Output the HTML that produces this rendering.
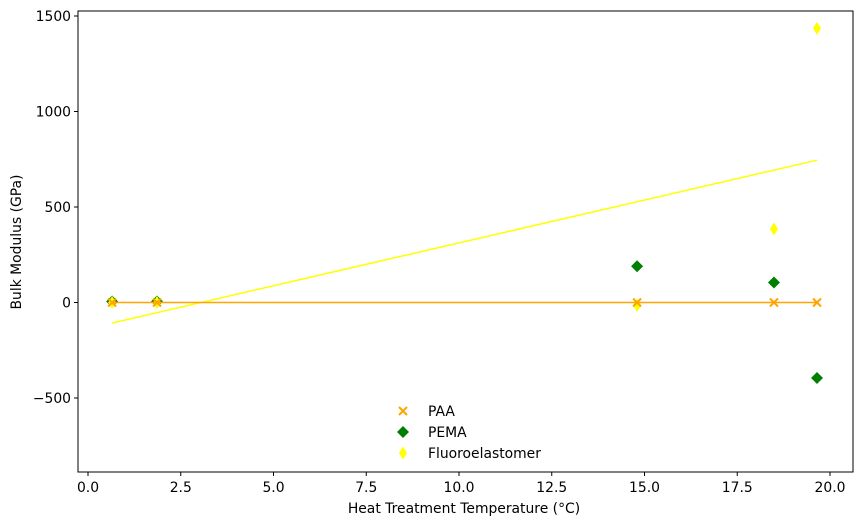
<!DOCTYPE html>
<html><head><meta charset="utf-8"><style>
body{margin:0;background:#fff;font-family:"DejaVu Sans",sans-serif}
svg text{font-family:"DejaVu Sans",sans-serif;font-size:13.9px;fill:#000}
</style></head><body>
<svg id="chart" width="862" height="526" xmlns="http://www.w3.org/2000/svg"></svg>
<script>
const xValues=[0.65,1.86,14.8,18.49,19.65];
const paaValues=[0,0,0,0,0];
const pemaValues=[5,5,190,105,-395];
const fluoroValues=[0,0,-15,385,1435];
const xTicks=[0,2.5,5,7.5,10,12.5,15,17.5,20];
const xTickLabels=["0.0","2.5","5.0","7.5","10.0","12.5","15.0","17.5","20.0"];
const yTicks=[-500,0,500,1000,1500];
const yTickLabels=["\u2212500","0","500","1000","1500"];

const NS="http://www.w3.org/2000/svg";
const svg=document.getElementById('chart');
const L=78,R=853,T=11,B=472;
const sx=v=>88+v*37.1;
const sy=v=>302.5-v*0.191;
function el(tag,attrs,parent){const e=document.createElementNS(NS,tag);for(const k in attrs)e.setAttribute(k,attrs[k]);(parent||svg).appendChild(e);return e;}

const frame=el('rect',{x:L,y:T,width:R-L,height:B-T,fill:'none',stroke:'#000','stroke-width':1});



xTicks.forEach((t,i)=>{
  const x=sx(t);
  const ln=el('line',{x1:x,x2:x,y1:B,y2:B+4,stroke:'#000'});
  
  
  const tx=el('text',{x:x,y:B+20,'text-anchor':'middle'});tx.textContent=xTickLabels[i];
  
  
});
yTicks.forEach((t,i)=>{
  const y=sy(t);
  const ln=el('line',{x1:L-4,x2:L,y1:y,y2:y,stroke:'#000'});
  
  
  const tx=el('text',{x:L-7,y:y+5,'text-anchor':'end'});tx.textContent=yTickLabels[i];
  
  
});
const xt=el('text',{x:464,y:513,'text-anchor':'middle'});xt.textContent='Heat Treatment Temperature (°C)';


const yt=el('text',{x:21,y:242,'text-anchor':'middle',transform:'rotate(-90 21 242)'});yt.textContent='Bulk Modulus (GPa)';



function fit(xs,ys){const n=xs.length,mx=xs.reduce((a,b)=>a+b)/n,my=ys.reduce((a,b)=>a+b)/n;let num=0,den=0;xs.forEach((x,i)=>{num+=(x-mx)*(ys[i]-my);den+=(x-mx)**2;});const m=num/den;return x=>my+m*(x-mx);}
function fitLine(ys,color,name){const f=fit(xValues,ys);const x0=Math.min(...xValues),x1=Math.max(...xValues);
  const l=el('line',{x1:sx(x0),y1:sy(f(x0)),x2:sx(x1),y2:sy(f(x1)),stroke:color,'stroke-width':1.5});
  
  }
function marker(kind,cx,cy,color,g){
  if(kind==='x'){return el('path',{d:`M${cx-4},${cy-4}L${cx+4},${cy+4}M${cx-4},${cy+4}L${cx+4},${cy-4}`,stroke:color,'stroke-width':2,fill:'none'},g);}
  if(kind==='D'){return el('path',{d:`M${cx},${cy-6}L${cx+6},${cy}L${cx},${cy+6}L${cx-6},${cy}Z`,fill:color},g);}
  return el('path',{d:`M${cx},${cy-6.5}L${cx+4},${cy}L${cx},${cy+6.5}L${cx-4},${cy}Z`,fill:color},g);
}
function series(ys,kind,color,name){const g=el('g',{});
  
  
  ys.forEach((v,i)=>{const m=marker(kind,sx(xValues[i]),sy(v),color,g);
    
    });}
series(pemaValues,'D','#008000','pema');
series(fluoroValues,'d','#ffff00','fluoroelastomer');
fitLine(fluoroValues,'#ffff00','fluoroelastomer-fit-line');
fitLine(paaValues,'#ffa500','paa-fit-line');
series(paaValues,'x','#ffa500','paa');

const legend=[['x','#ffa500','PAA',411],['D','#008000','PEMA',432],['d','#ffff00','Fluoroelastomer',453]];
legend.forEach(([k,c,lab,y])=>{const g=el('g',{});
  
  
  marker(k,403,y,c,g);const t=el('text',{x:428,y:y+5},g);t.textContent=lab;});
</script>
</body></html>
